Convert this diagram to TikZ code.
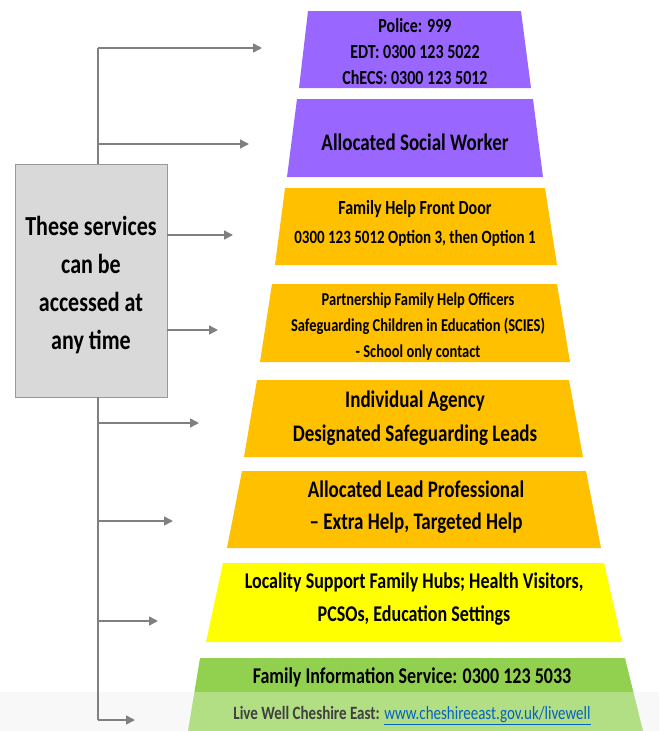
\documentclass[tikz,border=0pt]{standalone}
\usepackage{fontspec}
\usepackage{graphicx}
\setmainfont{Carlito}
\usetikzlibrary{arrows.meta}
\definecolor{lilac}{HTML}{9966FF}
\definecolor{amber}{HTML}{FFC000}
\definecolor{lemon}{HTML}{FFFF00}
\definecolor{leaf}{HTML}{92D050}
\definecolor{greybox}{HTML}{D9D9D9}
\definecolor{greyline}{HTML}{808080}
\definecolor{linkblue}{HTML}{0563C1}
\newcommand{\fsz}[2]{\fontsize{#1}{#2}\selectfont}
\newcommand{\tall}[1]{\scalebox{1}[1.25]{#1}}
\tikzstyle{tiertext} = [draw=none, align=center, text=black, font=\bfseries]
\tikzstyle{link} = [draw=greyline, line width=1.6pt]
\tikzstyle{pointer} = [link, -{Triangle[length=9pt,width=9pt]}]

\begin{document}
\begin{tikzpicture}[x=1pt,y=-1pt]
		\useasboundingbox (0,0) rectangle (659,731);
		\fill[black!4] (0,692) rectangle (659,731);
		
		% the pyramid, top to bottom
		\fill[lilac] (308,11) -- (521,11) -- (531,88) -- (299,88) -- cycle;
		\fill[lilac] (297,99) -- (533,99) -- (543,177) -- (287,177) -- cycle;
		\fill[amber] (285,188) -- (545,188) -- (557,265) -- (275,265) -- cycle;
		\fill[amber] (272,284) -- (557,284) -- (570,362) -- (260,362) -- cycle;
		\fill[amber] (257,380) -- (569,380) -- (583,457) -- (244,457) -- cycle;
		\fill[amber] (242,471) -- (586,471) -- (601,548) -- (227,548) -- cycle;
		\fill[lemon] (223,563) -- (604,563) -- (622,642) -- (206,642) -- cycle;
		\fill[leaf] (200,658) -- (625,658) -- (643,731) -- (188,731) -- cycle;
		\fill[white, opacity=0.3] (0,692) rectangle (659,731);
		
		\node[tiertext, font=\bfseries\fsz{16}{26}] (t1) at (415,52) {\tall{Police: 999}\\\tall{EDT: 0300 123 5022}\\\tall{ChECS: 0300 123 5012}};
		\node[tiertext, font=\bfseries\fsz{19}{30}] (t2) at (415,142) {\tall{Allocated Social Worker}};
		\node[tiertext, font=\bfseries\fsz{15}{29}] (t3) at (415,223) {\tall{\fsz{16}{29}Family Help Front Door}\\\tall{0300 123 5012 Option 3, then Option 1}};
		\node[tiertext, font=\bfseries\fsz{14.5}{26}] (t4) at (418,327) {\tall{Partnership Family Help Officers}\\\tall{Safeguarding Children in Education (SCIES)}\\\tall{- School only contact}};
		\node[tiertext, font=\bfseries\fsz{19}{34}] (t5) at (415,418) {\tall{Individual Agency}\\\tall{Designated Safeguarding Leads}};
		\node[tiertext, font=\bfseries\fsz{19}{32}] (t6) at (416,507) {\tall{Allocated Lead Professional}\\\tall{– Extra Help, Targeted Help}};
		\node[tiertext, font=\bfseries\fsz{18}{33}] (t7) at (414,599) {\tall{Locality Support Family Hubs; Health Visitors,}\\\tall{PCSOs, Education Settings}};
		\node[tiertext, font=\bfseries\fsz{15}{36}] (t8) at (412,696) {\tall{\fsz{18}{36}Family Information Service: 0300 123 5033}\\\tall{{\color{black!75}Live Well Cheshire East:} {\mdseries\color{linkblue}\underline{www.cheshireeast.gov.uk/livewell}}}};
		
		\node[draw=greyline!80, fill=greybox, minimum width=152pt, minimum height=233pt, align=center, font=\bfseries\fsz{22}{38}] (box) at (91,280.5) {\rule{0pt}{29pt}\tall{These services}\\\tall{can be}\\\tall{accessed at}\\\tall{any time}};
		
		% trunk and arrows
		\coordinate (s1) at (98,48);
		\coordinate (s2) at (98,144);
		\coordinate (s5) at (98,423);
		\coordinate (s6) at (98,521);
		\coordinate (s7) at (98,621);
		\coordinate (s8) at (98,720);
		\coordinate (a1) at (262,48);
		\coordinate (a2) at (249,144);
		\coordinate (a3) at (233,235);
		\coordinate (a4) at (218,330);
		\coordinate (a5) at (199,423);
		\coordinate (a6) at (173,521);
		\coordinate (a7) at (158,621);
		\coordinate (a8) at (135,720);
		
		\draw[link] (s1 |- box.north) -- (s1);
		\draw[link] (s1 |- box.south) -- (s8);
		\draw[pointer] (s1) -- (a1);
		\draw[pointer] (s2) -- (a2);
		\draw[pointer] (box.east |- a3) -- (a3);
		\draw[pointer] (box.east |- a4) -- (a4);
		\draw[pointer] (s5) -- (a5);
		\draw[pointer] (s6) -- (a6);
		\draw[pointer] (s7) -- (a7);
		\draw[pointer] (s8) -- (a8);
	\end{tikzpicture}
\end{document}
